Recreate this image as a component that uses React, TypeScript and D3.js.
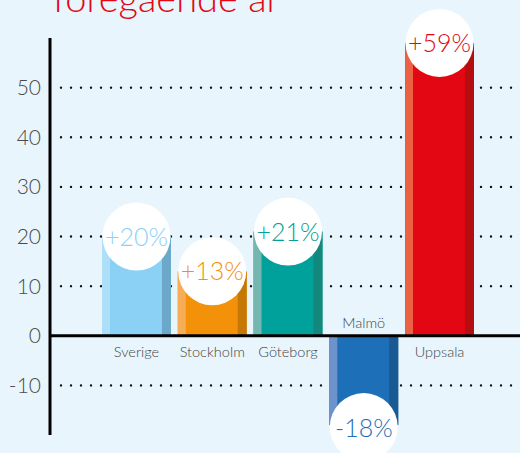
import React from "react";
import * as d3 from "d3";

const categories = ["Sverige", "Stockholm", "Göteborg", "Malmö", "Uppsala"];
const values = [20, 13, 21, -18, 59];
const valueLabels = ["+20%", "+13%", "+21%", "-18%", "+59%"];
const mainColors = ["#8bd1f6", "#f39208", "#00a19a", "#1d70b7", "#e30613"];
const leftColors = ["#addff8", "#f7ad55", "#73b7b0", "#6c93cc", "#ea6143"];
const rightColors = ["#6ba8c9", "#c67805", "#12897c", "#1b5993", "#b40e10"];
const gridTicks = [50, 40, 30, 20, 10, -10];
const axisTicks = [50, 40, 30, 20, 10, 0, -10];
const titleText = "föregående år";

const W = 520;
const H = 453;

export default function App() {
  const y = d3.scaleLinear().domain([-20, 60]).range([435, 38]);
  const x = d3
    .scaleBand<string>()
    .domain(categories)
    .range([98.6, 477.4])
    .paddingInner(0.09)
    .paddingOuter(0.045);
  const bw = x.bandwidth();
  const strip = 8;
  const r = 34;
  const font = "Lato, 'Open Sans', sans-serif";

  return (
    <svg
      width={W}
      height={H}
      style={{ position: "absolute", left: 0, top: 0, display: "block" }}
      viewBox={`0 0 ${W} ${H}`}
    >
      <rect x={0} y={0} width={W} height={H} fill="#e8f5fd" />
      <text
        x={53}
        y={12}
        fill="#e30613"
        fontFamily={font}
        fontWeight={300}
        fontSize={38}
      >
        {titleText}
      </text>
      {gridTicks.map((t) => (
        <line
          key={t}
          x1={61}
          x2={W}
          y1={y(t)}
          y2={y(t)}
          stroke="#111"
          strokeWidth={2.4}
          strokeDasharray="0 10"
          strokeLinecap="round"
        />
      ))}
      {axisTicks.map((t) => (
        <text
          key={t}
          x={41}
          y={y(t)}
          dy="0.36em"
          textAnchor="end"
          fill="#4a4a4a"
          fontFamily={font}
          fontWeight={300}
          fontSize={21}
        >
          {t}
        </text>
      ))}
      {categories.map((c, i) => {
        const v = values[i];
        const x0 = x(c) as number;
        const yTop = y(Math.max(0, v));
        const yBot = y(Math.min(0, v));
        const h = yBot - yTop;
        return (
          <g key={c}>
            <rect x={x0} y={yTop} width={bw} height={h} fill={mainColors[i]} />
            <rect x={x0} y={yTop} width={strip} height={h} fill={leftColors[i]} />
            <rect
              x={x0 + bw - strip - 1}
              y={yTop}
              width={strip + 1}
              height={h}
              fill={rightColors[i]}
            />
          </g>
        );
      })}
      <line x1={50} x2={W} y1={y(0)} y2={y(0)} stroke="#000" strokeWidth={3} />
      <line x1={50} x2={50} y1={y(60)} y2={y(-20)} stroke="#000" strokeWidth={3} />
      {categories.map((c, i) => {
        const v = values[i];
        const cx = (x(c) as number) + bw / 2;
        const cy = y(v);
        return (
          <g key={c + "-lab"}>
            <text
              x={cx}
              y={v >= 0 ? y(0) + 21 : y(0) - 8}
              textAnchor="middle"
              fill="#444"
              fontFamily={font}
              fontWeight={300}
              fontSize={14.5}
            >
              {c}
            </text>
            <circle cx={cx} cy={v >= 0 ? cy : cy + 2} r={r} fill="#fff" />
            <text
              x={cx}
              y={v >= 0 ? cy : cy + 3}
              dy="0.36em"
              textAnchor="middle"
              fill={mainColors[i]}
              fontFamily={font}
              fontWeight={300}
              fontSize={25}
            >
              {valueLabels[i]}
            </text>
          </g>
        );
      })}
    </svg>
  );
}
